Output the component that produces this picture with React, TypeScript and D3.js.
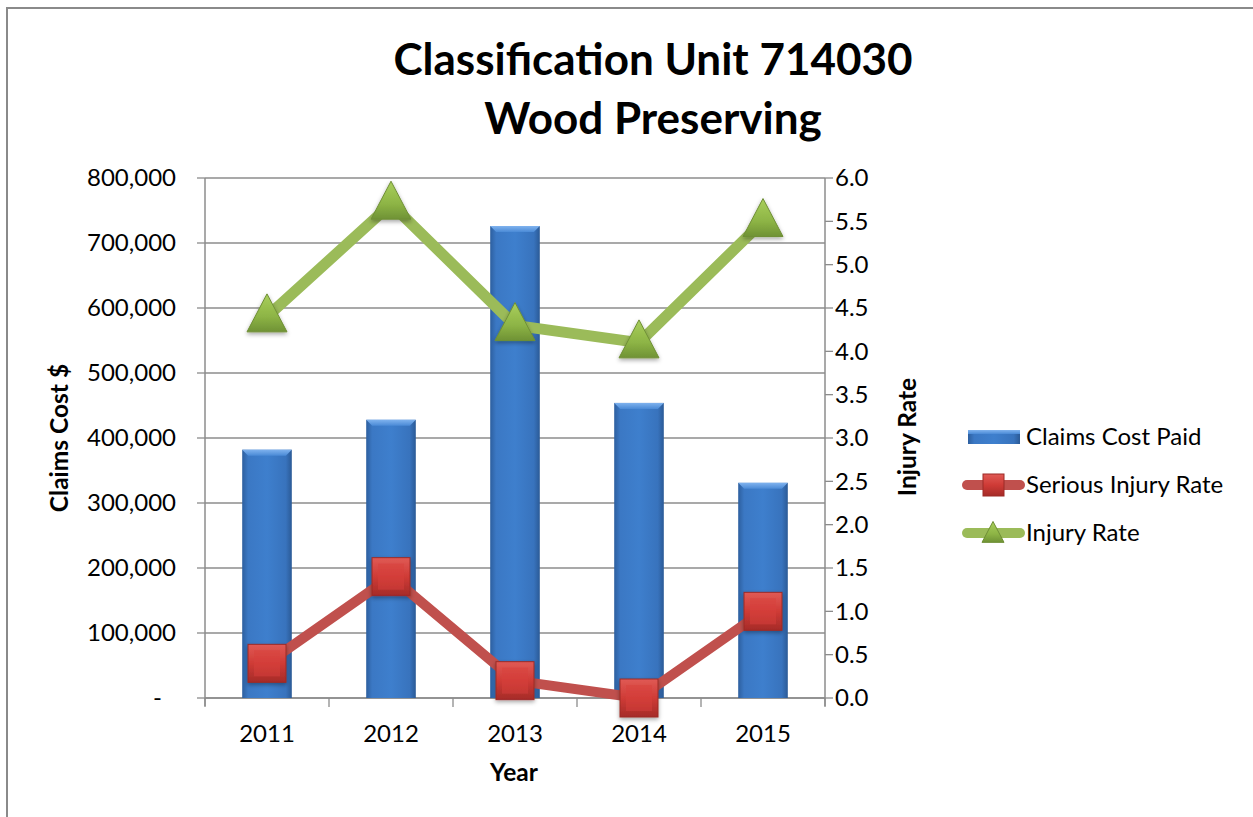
import React from "react";
import * as d3 from "d3";

const years = ["2011", "2012", "2013", "2014", "2015"];
const claimsCost = [382000, 428000, 726000, 454000, 331000];
const seriousInjuryRate = [0.4, 1.4, 0.2, 0.0, 1.0];
const injuryRate = [4.4, 5.7, 4.3, 4.1, 5.5];
const leftTicks = [0, 100000, 200000, 300000, 400000, 500000, 600000, 700000, 800000];
const rightTicks = [0, 0.5, 1, 1.5, 2, 2.5, 3, 3.5, 4, 4.5, 5, 5.5, 6];
const titleLines = ["Classification Unit 714030", "Wood Preserving"];
const legendItems = ["Claims Cost Paid", "Serious Injury Rate", "Injury Rate"];

const W = 1253;
const H = 817;
const plot = { left: 205, right: 825, top: 178, bottom: 698 };
const FONT = "Lato, 'Open Sans', sans-serif";
const RED = "#c0504d";
const GREEN = "#9bbb59";
const GRID = "#8c8c8c";

export default function App() {
  const x = d3
    .scaleBand<string>()
    .domain(years)
    .range([plot.left, plot.right])
    .paddingInner(0.6)
    .paddingOuter(0.3);
  const yL = d3.scaleLinear().domain([0, 800000]).range([plot.bottom, plot.top]);
  const yR = d3.scaleLinear().domain([0, 6]).range([plot.bottom, plot.top]);
  const fmt = d3.format(",");
  const cx = (d: string) => (x(d) as number) + x.bandwidth() / 2;

  const line = d3
    .line<number>()
    .x((_, i) => cx(years[i]))
    .y((v) => yR(v));

  const step = x.step();
  const boundaries = d3.range(years.length + 1).map((i) => plot.left + i * step);

  const tri = (px: number, py: number, s: number) => {
    const h = s * 0.95;
    return `M${px},${py - h * 0.6} L${px + s / 2},${py + h * 0.4} L${px - s / 2},${py + h * 0.4} Z`;
  };

  const legendX = 963;
  const legendYs = [437, 485, 533];
  const TICK_FS = 24;

  return (
    <svg
      width={W}
      height={H}
      style={{ position: "absolute", left: 0, top: 0, background: "#fff" }}
      fontFamily={FONT}
    >
      <defs>
        <linearGradient id="barGrad" x1="0" x2="1" y1="0" y2="0">
          <stop offset="0" stopColor="#2d5f9f" />
          <stop offset="0.12" stopColor="#3b78c4" />
          <stop offset="0.5" stopColor="#3e7fcd" />
          <stop offset="0.88" stopColor="#3873bd" />
          <stop offset="1" stopColor="#2b5a96" />
        </linearGradient>
        <linearGradient id="barTop" x1="0" x2="0" y1="0" y2="1">
          <stop offset="0" stopColor="#7fb2ee" />
          <stop offset="1" stopColor="#4a8ad6" />
        </linearGradient>
        <linearGradient id="redGrad" x1="0" x2="0" y1="0" y2="1">
          <stop offset="0" stopColor="#e05a55" />
          <stop offset="0.5" stopColor="#cf3b36" />
          <stop offset="1" stopColor="#a52b28" />
        </linearGradient>
        <linearGradient id="greenGrad" x1="0" x2="0" y1="0" y2="1">
          <stop offset="0" stopColor="#a9cf5c" />
          <stop offset="0.6" stopColor="#8db445" />
          <stop offset="1" stopColor="#6f9235" />
        </linearGradient>
        <filter id="shadow" x="-30%" y="-30%" width="160%" height="170%">
          <feDropShadow dx="0" dy="2" stdDeviation="2" floodColor="#000" floodOpacity="0.35" />
        </filter>
      </defs>

      {/* chart border */}
      <rect x={7} y={8} width={W + 10} height={H + 10} fill="none" stroke="#8a8a8a" strokeWidth={2} />

      {/* title */}
      {titleLines.map((t, i) => (
        <text
          key={t}
          x={653}
          y={75 + i * 59}
          textAnchor="middle"
          fontWeight="bold"
          fontSize={44}
          fill="#000"
        >
          {t}
        </text>
      ))}

      {/* gridlines */}
      {leftTicks.map((t) => (
        <line key={"g" + t} x1={plot.left} x2={plot.right} y1={yL(t)} y2={yL(t)} stroke={GRID} strokeWidth={1.3} />
      ))}

      {/* left axis */}
      <line x1={plot.left} x2={plot.left} y1={plot.top} y2={plot.bottom + 8} stroke={GRID} strokeWidth={1.5} />
      {leftTicks.map((t) => (
        <g key={"l" + t}>
          <line x1={plot.left - 8} x2={plot.left} y1={yL(t)} y2={yL(t)} stroke={GRID} strokeWidth={1.3} />
          <text x={t === 0 ? 162 : 176} y={yL(t)} dy="0.35em" textAnchor="end" fontSize={TICK_FS} fill="#000">
            {t === 0 ? "-" : fmt(t)}
          </text>
        </g>
      ))}

      {/* right axis */}
      <line x1={plot.right} x2={plot.right} y1={plot.top} y2={plot.bottom + 8} stroke={GRID} strokeWidth={1.5} />
      {rightTicks.map((t) => (
        <g key={"r" + t}>
          <line x1={plot.right} x2={plot.right + 8} y1={yR(t)} y2={yR(t)} stroke={GRID} strokeWidth={1.3} />
          <text x={835} y={yR(t)} dy="0.35em" textAnchor="start" fontSize={TICK_FS} fill="#000">
            {t.toFixed(1)}
          </text>
        </g>
      ))}

      {/* x axis */}
      <line x1={plot.left} x2={plot.right} y1={plot.bottom} y2={plot.bottom} stroke={GRID} strokeWidth={1.5} />
      {boundaries.map((b, i) => (
        <line key={"xb" + i} x1={b} x2={b} y1={plot.bottom} y2={plot.bottom + 9} stroke={GRID} strokeWidth={1.3} />
      ))}
      {years.map((y) => (
        <text key={"xl" + y} x={cx(y)} y={742} textAnchor="middle" fontSize={TICK_FS} fill="#000">
          {y}
        </text>
      ))}

      {/* axis titles */}
      <text x={514} y={781} textAnchor="middle" fontSize={24.5} fontWeight="bold">
        Year
      </text>
      <text
        transform={`translate(68,438) rotate(-90)`}
        textAnchor="middle"
        fontSize={24.5}
        fontWeight="bold"
      >
        Claims Cost $
      </text>
      <text
        transform={`translate(916,437) rotate(-90)`}
        textAnchor="middle"
        fontSize={24.5}
        fontWeight="bold"
      >
        Injury Rate
      </text>

      {/* bars */}
      {years.map((y, i) => {
        const bx = x(y) as number;
        const bw = x.bandwidth();
        const top = yL(claimsCost[i]);
        return (
          <g key={"bar" + y}>
            <rect x={bx} y={top} width={bw} height={plot.bottom - top} fill="url(#barGrad)" />
            <path
              d={`M${bx},${top} L${bx + bw},${top} L${bx + bw - 6},${top + 6} L${bx + 6},${top + 6} Z`}
              fill="url(#barTop)"
            />
          </g>
        );
      })}

      {/* serious injury rate */}
      <path d={line(seriousInjuryRate) as string} fill="none" stroke={RED} strokeWidth={10} strokeLinejoin="round" />
      {seriousInjuryRate.map((v, i) => (
        <g key={"sq" + i} filter="url(#shadow)">
          <rect x={cx(years[i]) - 19} y={yR(v) - 19} width={38} height={38} fill="url(#redGrad)" stroke="#9c2a27" strokeWidth={1} />
          <rect x={cx(years[i]) - 13} y={yR(v) - 13} width={26} height={26} fill="#d8403b" opacity={0.5} />
        </g>
      ))}

      {/* injury rate */}
      <path d={line(injuryRate) as string} fill="none" stroke={GREEN} strokeWidth={11} strokeLinejoin="round" />
      {injuryRate.map((v, i) => (
        <path key={"tr" + i} d={tri(cx(years[i]), yR(v), 40)} fill="url(#greenGrad)" stroke="#6f8f36" strokeWidth={1} filter="url(#shadow)" />
      ))}

      {/* legend */}
      <g>
        <rect x={legendX + 5} y={legendYs[0] - 7} width={52} height={14} fill="url(#barGrad)" />
        <rect x={legendX + 5} y={legendYs[0] - 7} width={52} height={4} fill="url(#barTop)" />
        <text x={1026} y={legendYs[0]} dy="0.35em" fontSize={TICK_FS}>
          {legendItems[0]}
        </text>

        <line x1={legendX + 4} x2={1020} y1={legendYs[1]} y2={legendYs[1]} stroke={RED} strokeWidth={10} strokeLinecap="round" />
        <rect x={983} y={legendYs[1] - 11} width={21} height={22} fill="url(#redGrad)" stroke="#9c2a27" strokeWidth={1} />
        <text x={1026} y={legendYs[1]} dy="0.35em" fontSize={TICK_FS}>
          {legendItems[1]}
        </text>

        <line x1={legendX + 4} x2={1020} y1={legendYs[2]} y2={legendYs[2]} stroke={GREEN} strokeWidth={10} strokeLinecap="round" />
        <path d={tri(993, legendYs[2] + 1, 22)} fill="url(#greenGrad)" stroke="#6f8f36" strokeWidth={1} />
        <text x={1026} y={legendYs[2]} dy="0.35em" fontSize={TICK_FS}>
          {legendItems[2]}
        </text>
      </g>
    </svg>
  );
}
